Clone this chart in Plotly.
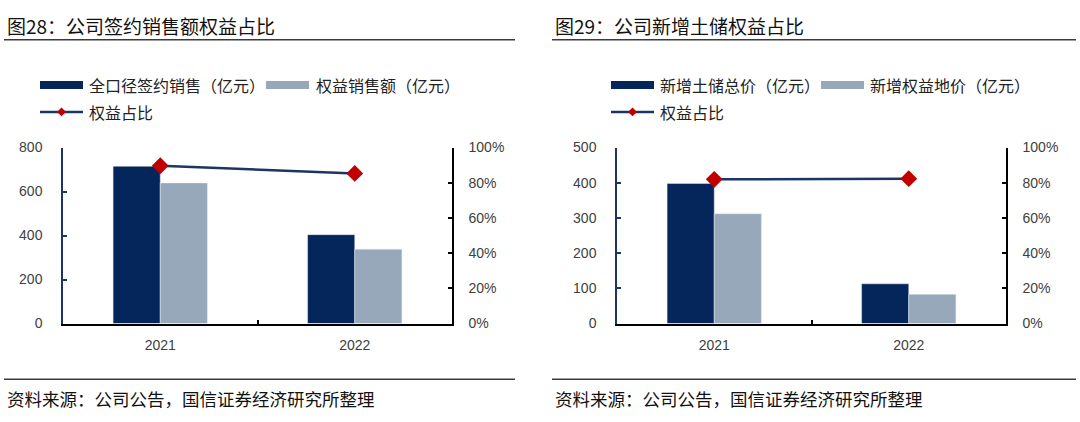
import plotly.graph_objects as go

# ---------------- data ----------------
years = ["2021", "2022"]

# Figure 28: sales
sales_total = [715, 404]        # 全口径签约销售（亿元）
sales_equity = [639, 338]       # 权益销售额（亿元）
sales_ratio = [0.896, 0.853]    # 权益占比

# Figure 29: land bank
land_total = [398, 113]         # 新增土储总价（亿元）
land_equity = [312, 83]         # 新增权益地价（亿元）
land_ratio = [0.819, 0.823]     # 权益占比

left_title = "图28：公司签约销售额权益占比"
right_title = "图29：公司新增土储权益占比"
source_text = "资料来源：公司公告，国信证券经济研究所整理"
left_names = ["全口径签约销售（亿元）", "权益销售额（亿元）", "权益占比"]
right_names = ["新增土储总价（亿元）", "新增权益地价（亿元）", "权益占比"]

# ---------------- style ----------------
W, H = 1080, 422
DARK = "#05265a"
LIGHT = "#96a8ba"
LINE = "#1c3565"
RED = "#c00000"
CJK = "Noto Sans CJK SC"
NUM = "Liberation Sans"
TICKC = "#404040"

def px(x):
    return x / W

def py(y):
    return 1 - y / H

fig = go.Figure()

# left panel traces
fig.add_trace(go.Bar(x=years, y=sales_total, name=left_names[0], marker_color=DARK,
                     xaxis="x", yaxis="y", showlegend=False))
fig.add_trace(go.Bar(x=years, y=sales_equity, name=left_names[1], marker_color=LIGHT,
                     xaxis="x", yaxis="y", showlegend=False))
fig.add_trace(go.Scatter(x=years, y=sales_ratio, name=left_names[2], mode="lines+markers",
                         line=dict(color=LINE, width=2.5),
                         marker=dict(symbol="diamond", size=13, color=RED),
                         xaxis="x", yaxis="y3", showlegend=False))

# right panel traces
fig.add_trace(go.Bar(x=years, y=land_total, name=right_names[0], marker_color=DARK,
                     xaxis="x2", yaxis="y2", showlegend=False))
fig.add_trace(go.Bar(x=years, y=land_equity, name=right_names[1], marker_color=LIGHT,
                     xaxis="x2", yaxis="y2", showlegend=False))
fig.add_trace(go.Scatter(x=years, y=land_ratio, name=right_names[2], mode="lines+markers",
                         line=dict(color=LINE, width=2.5),
                         marker=dict(symbol="diamond", size=13, color=RED),
                         xaxis="x2", yaxis="y4", showlegend=False))

ydom = [py(328), py(145)]
tickfont = dict(family=NUM, size=14, color=TICKC)

xcommon = dict(type="category", showline=True, linecolor="#000000", linewidth=1.5,
               ticks="inside", ticklen=4, tickcolor="#000000", tickwidth=1.5,
               tickson="boundaries", showgrid=False, zeroline=False,
               tickfont=tickfont, ticklabelstandoff=8, fixedrange=True)
yleft = dict(showline=True, linecolor=LINE, linewidth=1.5, ticks="inside", ticklen=4,
             tickcolor=LINE, tickwidth=1.5, showgrid=False, zeroline=False,
             tickfont=tickfont, ticklabelstandoff=16, domain=ydom)
yright = dict(showline=True, linecolor="#000000", linewidth=1.5, ticks="inside", ticklen=4,
              tickcolor="#000000", tickwidth=1.5, showgrid=False, zeroline=False,
              tickfont=tickfont, ticklabelstandoff=12, range=[0, 1], dtick=0.2,
              tickformat=".0%", side="right")

fig.update_layout(
    width=W, height=H,
    margin=dict(l=0, r=0, t=0, b=0),
    paper_bgcolor="white", plot_bgcolor="white",
    barmode="group", bargap=0.515, bargroupgap=0,
    showlegend=False,
    xaxis=dict(domain=[px(63), px(452)], anchor="y", **xcommon),
    xaxis2=dict(domain=[px(617), px(1006)], anchor="y2", **xcommon),
    yaxis=dict(anchor="x", range=[0, 800], dtick=200, **yleft),
    yaxis2=dict(anchor="x2", range=[0, 500], dtick=100, **yleft),
    yaxis3=dict(anchor="x", overlaying="y", **yright),
    yaxis4=dict(anchor="x2", overlaying="y2", **yright),
)

shapes = []
annotations = []

def panel_frame(x0, x1, title):
    # title underline and bottom rule
    shapes.append(dict(type="line", xref="paper", yref="paper", x0=px(x0), x1=px(x1),
                       y0=py(33), y1=py(33), line=dict(color="#3a3a3a", width=1.5)))
    shapes.append(dict(type="line", xref="paper", yref="paper", x0=px(x0), x1=px(x1),
                       y0=py(386), y1=py(386), line=dict(color="#3a3a3a", width=1.5)))
    annotations.append(dict(text=title, xref="paper", yref="paper", x=px(x0 + 1), y=py(18),
                            xanchor="left", yanchor="middle", showarrow=False,
                            font=dict(family=CJK, size=19, color="#111111")))
    annotations.append(dict(text=source_text, xref="paper", yref="paper", x=px(x0 + 1), y=py(406),
                            xanchor="left", yanchor="middle", showarrow=False,
                            font=dict(family=CJK, size=17.5, color="#111111")))

def legend_block(sx1, tx1, sx2, tx2, names):
    sw = 43
    # row 1: bar swatches
    shapes.append(dict(type="line", xref="paper", yref="paper", x0=px(sx1), x1=px(sx1 + sw),
                       y0=py(80), y1=py(80), line=dict(color=DARK, width=8)))
    shapes.append(dict(type="line", xref="paper", yref="paper", x0=px(sx2), x1=px(sx2 + sw),
                       y0=py(80), y1=py(80), line=dict(color=LIGHT, width=8)))
    # row 2: line swatch with diamond
    shapes.append(dict(type="line", xref="paper", yref="paper", x0=px(sx1), x1=px(sx1 + sw),
                       y0=py(108), y1=py(108), line=dict(color=LINE, width=2.5)))
    cx, cy, r = sx1 + sw / 2, 108, 4.5
    shapes.append(dict(type="path", xref="paper", yref="paper",
                       path=f"M {px(cx)} {py(cy - r)} L {px(cx + r)} {py(cy)} L {px(cx)} {py(cy + r)} L {px(cx - r)} {py(cy)} Z",
                       fillcolor=RED, line=dict(color=RED, width=0)))
    for txt, tx, ty in [(names[0], tx1, 80), (names[1], tx2, 80), (names[2], tx1, 108)]:
        annotations.append(dict(text=txt, xref="paper", yref="paper", x=px(tx), y=py(ty),
                                xanchor="left", yanchor="middle", showarrow=False,
                                font=dict(family=CJK, size=16, color="#222222")))

panel_frame(4, 515, left_title)
panel_frame(552, 1076, right_title)
legend_block(40, 87, 266, 314, left_names)
legend_block(611, 658, 821, 868, right_names)

fig.update_layout(shapes=shapes, annotations=annotations)

fig.write_html(
    "out.html",
    config={"displayModeBar": False},
    post_script="document.body.style.margin='0';document.body.style.padding='0';"
                "document.documentElement.style.overflow='hidden';",
)
